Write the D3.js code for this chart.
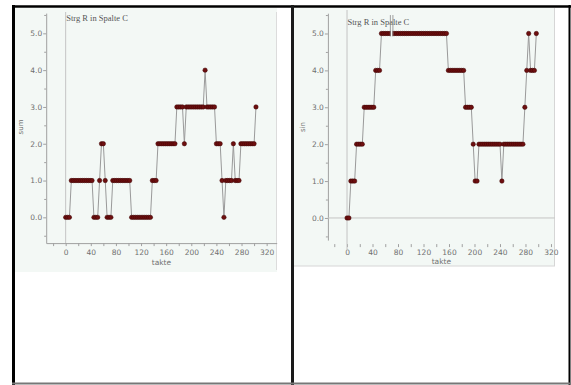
<!DOCTYPE html>
<html><head><meta charset="utf-8">
<script src="https://cdn.jsdelivr.net/npm/d3@7"></script>
<style>
html,body{margin:0;padding:0;background:#fff;}
svg{display:block;}
</style></head>
<body>
<svg id="c" width="571" height="385"></svg>
<script>
// ---------- data ----------
const chartTitle = "Strg R in Spalte C";
const xLabel = "takte";
const yLabelLeft = "sum";
const yLabelRight = "sin";

const takteLeft = [0,3,6,9,12,15,18,21,24,27,30,33,36,39,42,45,48,51,54,57,60,63,66,69,72,75,78,81,84,87,90,93,96,99,102,105,108,111,114,117,120,123,126,129,132,135,138,141,144,147,150,153,156,159,162,165,168,171,174,177,180,183,186,189,192,195,198,201,204,207,210,213,216,219,222,225,228,231,234,237,240,243,246,249,252,255,258,261,264,267,270,273,276,279,282,285,288,291,294,297,300,303];
const valuesLeft = [0,0,0,1,1,1,1,1,1,1,1,1,1,1,1,0,0,0,1,2,2,1,0,0,0,1,1,1,1,1,1,1,1,1,1,0,0,0,0,0,0,0,0,0,0,0,1,1,1,2,2,2,2,2,2,2,2,2,2,3,3,3,3,2,3,3,3,3,3,3,3,3,3,3,4,3,3,3,3,3,2,2,2,1,0,1,1,1,1,2,1,1,1,2,2,2,2,2,2,2,2,3];

const takteRight = [0,3,6,9,12,15,18,21,24,27,30,33,36,39,42,45,48,51,54,57,60,63,66,69,72,75,78,81,84,87,90,93,96,99,102,105,108,111,114,117,120,123,126,129,132,135,138,141,144,147,150,153,156,159,162,165,168,171,174,177,180,183,186,189,192,195,198,201,204,207,210,213,216,219,222,225,228,231,234,237,240,243,246,249,252,255,258,261,264,267,270,273,276,279,282,285,288,291,294,297];
const valuesRight = [0,0,1,1,1,2,2,2,2,3,3,3,3,3,3,4,4,4,5,5,5,5,5,5,5,5,5,5,5,5,5,5,5,5,5,5,5,5,5,5,5,5,5,5,5,5,5,5,5,5,5,5,5,4,4,4,4,4,4,4,4,4,3,3,3,3,2,1,1,2,2,2,2,2,2,2,2,2,2,2,2,1,2,2,2,2,2,2,2,2,2,2,2,3,4,5,4,4,4,5];

const yTicks = [0,1,2,3,4,5];
const yMinorTicks = [-0.5,0.5,1.5,2.5,3.5,4.5,5.5];
const xTicks = [0,40,80,120,160,200,240,280,320];
const xMinorTicks = [-20,20,60,100,140,180,220,260,300];
const cursorTakte = [68,72];

// ---------- drawing ----------
const svg = d3.select("#c");
const bg = "#f3f8f5";
const axisCol = "#a0a0a0";
const textCol = "#707070";
const labelFont = "7.5px 'DejaVu Sans', sans-serif";

// panel backgrounds
svg.append("rect").attr("x",15).attr("y",8).attr("width",262).attr("height",264).attr("fill",bg);
svg.append("line").attr("x1",276.5).attr("x2",276.5).attr("y1",12).attr("y2",270).attr("stroke","#dcdcdc");
svg.append("rect").attr("x",294).attr("y",8).attr("width",261).attr("height",258).attr("fill",bg);
svg.append("line").attr("x1",554.5).attr("x2",554.5).attr("y1",8).attr("y2",266).attr("stroke","#d6d6d6");
svg.append("line").attr("x1",294).attr("x2",555).attr("y1",266).attr("y2",266).attr("stroke","#d6d6d6");

function panel(cfg){
  const x = d3.scaleLinear().domain(cfg.xDomain).range(cfg.xRange);
  const y = d3.scaleLinear().domain(cfg.yDomain).range(cfg.yRange);
  const g = svg.append("g");
  const axisX0 = x.range()[0];

  // y axis (minor + major)
  const ya = g.append("g").attr("transform",`translate(${axisX0},0)`)
    .call(d3.axisLeft(y).tickValues(yMinorTicks).tickSize(2).tickFormat("").tickSizeOuter(0));
  ya.select(".domain").attr("stroke",axisCol);
  ya.selectAll(".tick line").attr("stroke",axisCol);
  const yb = g.append("g").attr("transform",`translate(${axisX0},0)`)
    .call(d3.axisLeft(y).tickValues(yTicks).tickSize(3).tickPadding(1).tickFormat(d3.format(".1f")).tickSizeOuter(0));
  yb.select(".domain").remove();
  yb.selectAll(".tick line").attr("stroke",axisCol);
  yb.selectAll("text").attr("fill",textCol).style("font",labelFont);

  // x axis
  const xaY = cfg.xAxisY(y);
  const xa = g.append("g").attr("transform",`translate(0,${xaY})`)
    .call(d3.axisBottom(x).tickValues(xMinorTicks).tickSize(3).tickFormat("").tickSizeOuter(0));
  const xb = g.append("g").attr("transform",`translate(0,${xaY})`)
    .call(d3.axisBottom(x).tickValues(xTicks).tickSize(3).tickPadding(cfg.xPad).tickFormat(d3.format("d")).tickSizeOuter(0));
  xb.select(".domain").remove();
  if (cfg.xDomainLine) xa.select(".domain").attr("stroke",axisCol); else xa.select(".domain").remove();
  xa.selectAll(".tick line").attr("stroke",axisCol);
  xb.selectAll(".tick line").attr("stroke",axisCol);
  xb.selectAll("text").attr("fill",textCol).style("font",labelFont);

  // axis titles
  g.append("text").attr("x",(x.range()[0]+x.range()[1])/2).attr("y",cfg.xTitleY)
    .attr("text-anchor","middle").attr("fill",textCol).style("font",labelFont).text(xLabel);
  g.append("text").attr("transform",`translate(${cfg.yTitleX},${cfg.yTitleY}) rotate(-90)`)
    .attr("text-anchor","middle").attr("fill",textCol).style("font","7px 'DejaVu Sans', sans-serif").text(cfg.yLabel);

  // reference lines through origin
  g.append("line").attr("x1",x(0)).attr("x2",x(0)).attr("y1",cfg.vTop).attr("y2",cfg.vBottom)
    .attr("stroke","#c4c4c4");
  if (cfg.zeroLine) g.append("line").attr("x1",x.range()[0]).attr("x2",x.range()[1]).attr("y1",y(0)).attr("y2",y(0))
    .attr("stroke","#c4c4c4");

  // title
  g.append("text").attr("x",x(0)+0.5).attr("y",cfg.titleY).attr("fill","#555")
    .style("font","8.5px 'Liberation Serif', serif").text(chartTitle);

  // data
  const pts = cfg.takte.map((t,i)=>({t, v: cfg.values[i]}));
  g.append("path").datum(pts).attr("fill","none").attr("stroke","#9a9a9a").attr("stroke-width",1)
    .attr("d", d3.line().x(d=>x(d.t)).y(d=>y(d.v)));
  g.selectAll("circle.pt").data(pts).join("circle").attr("class","pt")
    .attr("cx",d=>x(d.t)).attr("cy",d=>y(d.v)).attr("r",2.2)
    .attr("fill","#6e0f0f").attr("stroke","#3d0404").attr("stroke-width",0.5);
  return {x,y,g};
}

panel({
  xDomain:[-31,336], xRange:[46.2,276.7],
  yDomain:[-0.7,5.55], yRange:[243.1,13.1],
  xAxisY: y => y(-0.7), xPad: 4, xDomainLine: true,
  xTitleY: 264.5, yTitleX: 23, yTitleY: 127, yLabel: yLabelLeft,
  vTop: 12, vBottom: 243, zeroLine: false, titleY: 21,
  takte: takteLeft, values: valuesLeft
});

const R = panel({
  xDomain:[-30,326], xRange:[327.9,554.8],
  yDomain:[-0.6,5.55], yRange:[240.1,13.2],
  xAxisY: y => y(-0.6)+4, xPad: 2.5, xDomainLine: false,
  xTitleY: 264, yTitleX: 305, yTitleY: 127, yLabel: yLabelRight,
  vTop: 10, vBottom: 250, zeroLine: true, titleY: 25,
  takte: takteRight, values: valuesRight
});

// trace cursor in right panel
R.g.append("rect").attr("x",R.x(cursorTakte[0])+0.5).attr("width",R.x(cursorTakte[1])-R.x(cursorTakte[0])-1)
  .attr("y",R.y(5)-4).attr("height",8).attr("fill",bg);
cursorTakte.forEach(t=>{
  R.g.append("line").attr("x1",R.x(t)).attr("x2",R.x(t)).attr("y1",R.y(5.5)).attr("y2",R.y(5)+3)
    .attr("stroke","#888").attr("stroke-width",0.8);
});

// outer frame
svg.append("line").attr("x1",12).attr("x2",571).attr("y1",6.5).attr("y2",6.5).attr("stroke","#000").attr("stroke-width",2.5);
svg.append("line").attr("x1",13.5).attr("x2",13.5).attr("y1",5).attr("y2",385).attr("stroke","#000").attr("stroke-width",3);
svg.append("line").attr("x1",292.5).attr("x2",292.5).attr("y1",5).attr("y2",385).attr("stroke","#1a1a1a").attr("stroke-width",3);
svg.append("line").attr("x1",569.5).attr("x2",569.5).attr("y1",5).attr("y2",385).attr("stroke","#000").attr("stroke-width",2);
svg.append("line").attr("x1",12).attr("x2",571).attr("y1",383.5).attr("y2",383.5).attr("stroke","#777").attr("stroke-width",2);
</script>
</body></html>
